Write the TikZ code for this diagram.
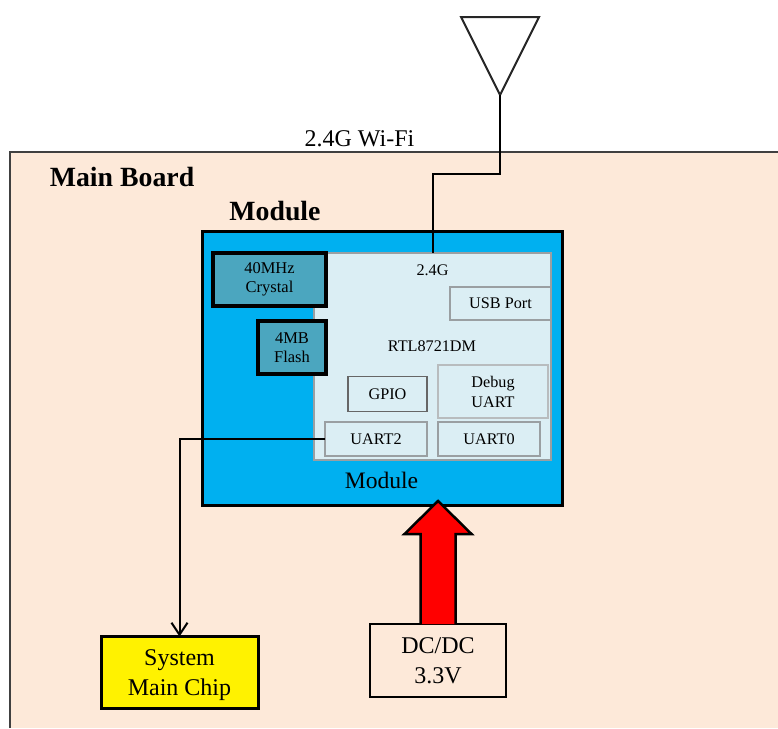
\documentclass[tikz,border=0pt]{standalone}
\usepackage{fontspec}
\setmainfont{Liberation Serif}
\usetikzlibrary{arrows.meta}
\definecolor{boardfill}{HTML}{FDE9D9}
\definecolor{modfill}{HTML}{00B0F0}
\definecolor{chipfill}{HTML}{DBEEF4}
\definecolor{xtalfill}{HTML}{4BA6BF}
\definecolor{soft}{HTML}{9A9FA2}
\newcommand{\fs}[2]{\fontsize{#1}{#2}\selectfont}
\tikzset{
  x=1pt,y=-1pt,
  base/.style={rectangle,inner sep=0pt,outer sep=0pt,align=center,draw=black},
  sizedbox/.style 2 args={minimum width=#1 pt,minimum height=#2 pt},
  modulebox/.style={base,fill=modfill,line width=3pt},
  chipbox/.style={base,fill=chipfill,draw=soft,line width=1.6pt},
  xtalbox/.style={base,fill=xtalfill,line width=3.4pt,font=\fs{16.5}{18.5}},
  portbox/.style={base,fill=chipfill,draw=soft,line width=1.6pt,font=\fs{16.2}{20}},
  bigbox/.style={base,line width=2.5pt,font=\fs{24}{30}},
  wire/.style={draw=black,line width=2pt},
  title/.style={inner sep=0pt,font=\fs{27.8}{30}\bfseries},
  plain/.style={inner sep=0pt,align=center},
}
\begin{document}
\begin{tikzpicture}
\useasboundingbox (0,0) rectangle (778,728);
% main board (open on right and bottom)
\fill[boardfill] (10,152) rectangle (778,728);
\draw[line width=1.8pt,draw=black!75] (10,728) -- (10,152) -- (778,152);
\node[title] (boardlabel) at (122,177) {Main Board};
\node[title] (modlabel) at (275,211) {Module};
\node[plain,font=\fs{24}{28}] (wifi) at (359.5,139) {2.4G Wi-Fi};
% antenna
\coordinate (ant) at (500,95);
\coordinate (antl) at (461,17);
\coordinate (antr) at (539,17);
\coordinate (bend) at (500,174);
\draw[line width=2pt,draw=black!85,line join=miter] (antl) -- (antr) -- (ant) -- cycle;
% module
\node[modulebox,sizedbox={360}{274}] (module) at (382,368) {};
\node[chipbox,sizedbox={237}{207}] (chip) at (432.5,356.5) {};
\node[xtalbox,sizedbox={113}{53}] (xtal) at (269.5,279.5) {40MHz\\Crystal};
\node[xtalbox,sizedbox={68}{53},font=\fs{16.5}{19.5}] (flash) at (292,347.5) {4MB\\Flash};
\node[plain,font=\fs{16.2}{20}] (band) at (432.5,270) {2.4G};
\node[portbox,sizedbox={101}{33}] (usb) at (500.5,303.5) {USB Port};
\node[plain,font=\fs{16.2}{20}] (rtl) at (432,346) {RTL8721DM};
\node[portbox,sizedbox={79}{35},draw=black!60] (gpio) at (387.5,394) {GPIO};
\node[portbox,sizedbox={110}{53},line width=2pt,draw=soft!70] (debug) at (493,391.5) {Debug\\UART};
\node[portbox,sizedbox={102}{34}] (uart2) at (376,439) {UART2};
\node[portbox,sizedbox={102}{34}] (uart0) at (489,439) {UART0};
\node[plain,font=\fs{23.6}{28}] (modin) at (381.5,480) {Module};
% lower boxes
\node[bigbox,fill=yellow,sizedbox={157}{72},line width=3pt] (sys) at (179.5,672.5) {};
\node[plain,font=\fs{24}{30}] (systext) at (179.5,675) {System\\Main Chip};
\node[bigbox,fill=boardfill,sizedbox={136}{73}] (dc) at (438,660.5) {DC/DC\\3.3V};
% connectors
\draw[wire,line join=miter] (ant) -- (bend) -| (chip.north);
\draw[wire,-{Straight Barb[length=12pt,width=16pt,line width=2pt]}] (uart2.west) -| (sys.north);
% power arrow
\coordinate (tip) at ([yshift=4pt]dc.north |- module.south);
\draw[line width=2.5pt,fill=red,line join=miter,draw=black] ([xshift=-17.5pt]dc.north) -- ([xshift=-17.5pt,yshift=-33pt]tip) -- ([xshift=-33.5pt,yshift=-33pt]tip)
  -- (tip) -- ([xshift=33.5pt,yshift=-33pt]tip) -- ([xshift=17.5pt,yshift=-33pt]tip) -- ([xshift=17.5pt]dc.north);
\end{tikzpicture}
\end{document}
